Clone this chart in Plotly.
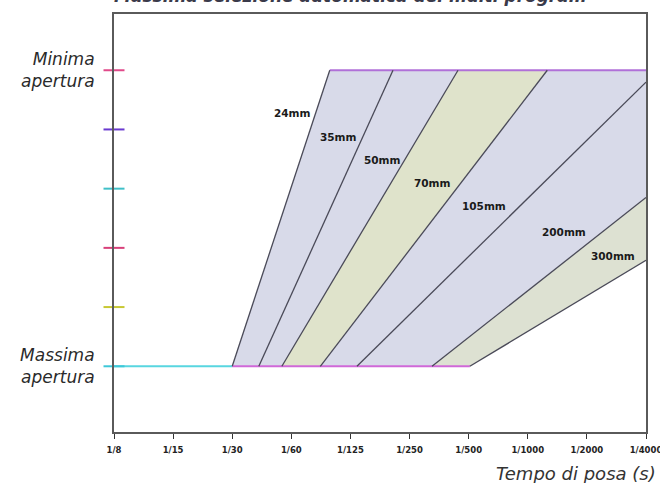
import plotly.graph_objects as go

# ---- data ----
shutter_labels = ["1/8", "1/15", "1/30", "1/60", "1/125", "1/250", "1/500", "1/1000", "1/2000", "1/4000"]
aperture_ticks = [0, 1, 2, 3, 4, 5]
aperture_labels = ["<i>Massima</i><br><i>apertura</i>", "", "", "", "", "<i>Minima</i><br><i>apertura</i>"]
tick_colors = ["#3ec8d8", "#c8c832", "#d8407a", "#40c0c8", "#6a3ad0", "#e04a8a"]

focal = ["24mm", "35mm", "50mm", "70mm", "105mm", "200mm", "300mm"]
# each line: start (x0, y0) on massima apertura -> end (x1, y1)
line_x0 = [2.00, 2.45, 2.84, 3.49, 4.11, 5.38, 6.02]
line_y0 = [0, 0, 0, 0, 0, 0, 0]
line_x1 = [3.65, 4.72, 5.82, 7.33, 9.00, 9.00, 9.00]
line_y1 = [5.0, 5.0, 5.0, 5.0, 4.80, 2.85, 1.79]
label_x = [3.36, 4.15, 4.89, 5.74, 6.67, 8.02, 8.84]
label_y = [4.27, 3.87, 3.48, 3.09, 2.70, 2.26, 1.86]

FONT = "DejaVu Sans"

fig = go.Figure()

# whole program region
fig.add_trace(go.Scatter(
    x=[line_x0[0], line_x1[0], 9.0, line_x1[-1], line_x0[-1], line_x0[0]],
    y=[0, 5, 5, line_y1[-1], 0, 0],
    fill="toself", fillcolor="#d8dae9", line=dict(width=0), mode="lines",
    hoverinfo="skip", showlegend=False))
# yellowish bands (scan tint)
fig.add_trace(go.Scatter(
    x=[line_x0[2], line_x1[2], line_x1[3], line_x0[3], line_x0[2]],
    y=[0, 5, 5, 0, 0],
    fill="toself", fillcolor="#dfe3cb", line=dict(width=0), mode="lines",
    hoverinfo="skip", showlegend=False))
fig.add_trace(go.Scatter(
    x=[line_x0[5], line_x1[5], 9.0, line_x0[6], line_x0[5]],
    y=[0, line_y1[5], line_y1[6], 0, 0],
    fill="toself", fillcolor="#dde1d2", line=dict(width=0), mode="lines",
    hoverinfo="skip", showlegend=False))

# limit lines
fig.add_trace(go.Scatter(x=[0, line_x0[0]], y=[0, 0], mode="lines",
                         line=dict(color="#58d6e0", width=2), hoverinfo="skip", showlegend=False))
fig.add_trace(go.Scatter(x=[line_x0[0], line_x0[-1]], y=[0, 0], mode="lines",
                         line=dict(color="#d068d8", width=2), hoverinfo="skip", showlegend=False))
fig.add_trace(go.Scatter(x=[line_x1[0], 9.0], y=[5, 5], mode="lines",
                         line=dict(color="#b070d8", width=2.2), hoverinfo="skip", showlegend=False))

# focal lines
for i in range(len(focal)):
    fig.add_trace(go.Scatter(x=[line_x0[i], line_x1[i]], y=[line_y0[i], line_y1[i]], mode="lines",
                             line=dict(color="#4a4a58", width=1.3), hoverinfo="skip", showlegend=False))
    fig.add_annotation(x=label_x[i], y=label_y[i], text="<b>" + focal[i] + "</b>", showarrow=False,
                       xanchor="right", yanchor="middle",
                       font=dict(family=FONT, size=10.5, color="#1a1a1a"))

# coloured tick marks on the aperture axis
fig.add_trace(go.Scatter(x=[0] * len(aperture_ticks), y=aperture_ticks, mode="markers",
                         marker=dict(symbol="line-ew", size=15,
                                     line=dict(color=tick_colors, width=2)),
                         cliponaxis=False, hoverinfo="skip", showlegend=False))

fig.update_layout(
    width=660, height=483,
    margin=dict(l=114, r=14, t=14, b=51),
    paper_bgcolor="white", plot_bgcolor="white",
    font=dict(family=FONT),
    xaxis=dict(range=[0, 9], tickmode="array", tickvals=list(range(len(shutter_labels))),
               ticktext=["<b>" + s + "</b>" for s in shutter_labels], automargin=False,
               ticklabeloverflow="allow",
               showgrid=False, zeroline=False, showline=True, mirror=True,
               linecolor="#5a5a5a", linewidth=2, ticks="outside", ticklen=5,
               tickcolor="#333", ticklabelstandoff=4, tickfont=dict(size=8.5, color="#222")),
    yaxis=dict(range=[-1.11, 5.95], tickmode="array", tickvals=aperture_ticks,
               ticktext=aperture_labels, showgrid=False, zeroline=False, automargin=False,
               showline=True, mirror=True, linecolor="#5a5a5a", linewidth=2,
               ticks="outside", ticklen=4, tickcolor="rgba(0,0,0,0)", ticklabelstandoff=10,
               tickfont=dict(size=17, color="#2a2a2a", style="italic")),
)

fig.add_annotation(xref="paper", yref="paper", x=1, y=0, xanchor="right", yanchor="top",
                   xshift=12, yshift=-29, showarrow=False,
                   text="<i>Tempo di posa (s)</i>", font=dict(size=18, color="#333"))
fig.add_annotation(xref="paper", yref="paper", x=0, y=1, xanchor="left", yanchor="bottom",
                   xshift=-2, yshift=6, showarrow=False,
                   text="<b><i>Massima selezione automatica dei multi program</i></b>",
                   font=dict(size=17, color="#3a3a4a"))

fig.write_html("out.html", config={"displayModeBar": False},
               post_script="document.body.style.margin='0';")
